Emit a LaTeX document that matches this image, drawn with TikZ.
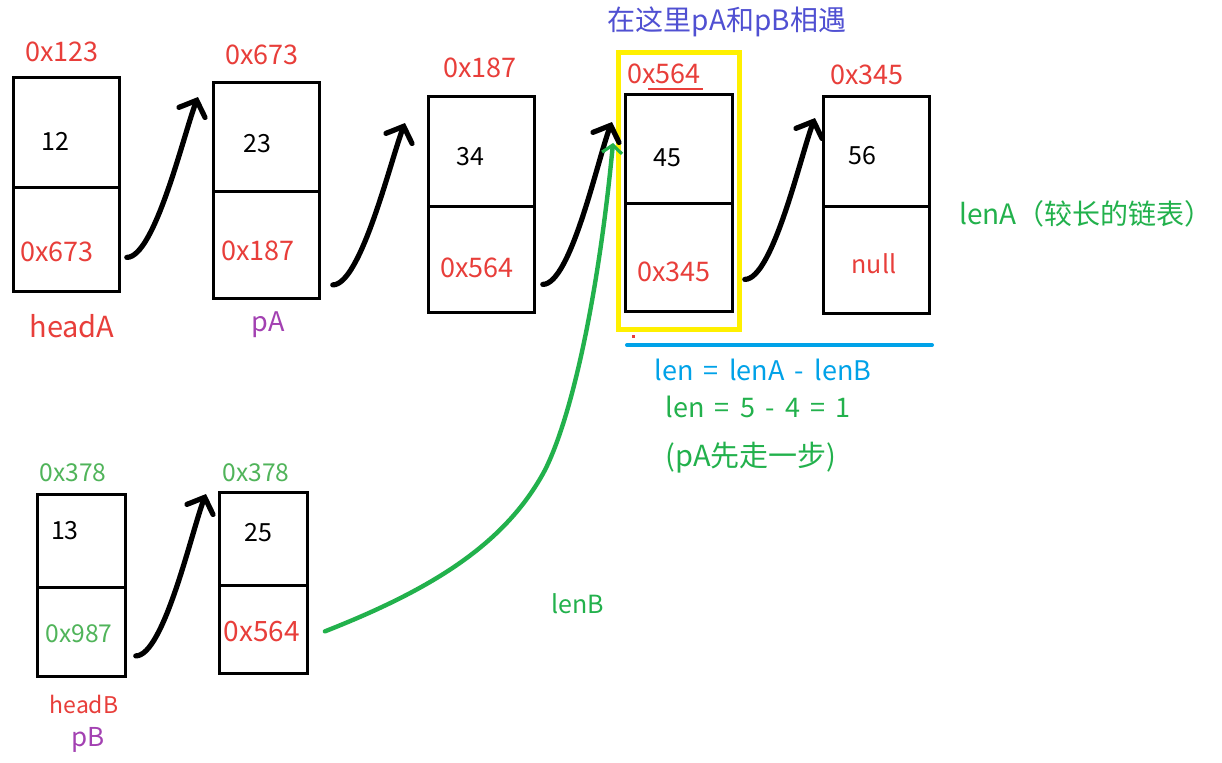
\documentclass[tikz,border=0pt]{standalone}
\usepackage{fontspec}
\setmainfont{Noto Sans CJK SC}
\usetikzlibrary{arrows.meta,calc}
\definecolor{cred}{RGB}{232,62,58}
\definecolor{cgreen}{RGB}{34,177,76}
\definecolor{lgreen}{RGB}{80,180,90}
\definecolor{cpurple}{RGB}{163,65,178}
\definecolor{ctitle}{RGB}{80,80,210}
\definecolor{cblue}{RGB}{0,162,232}
\definecolor{cyell}{RGB}{255,240,0}
\newcommand{\widesp}{\spaceskip=0.38em\relax}
\tikzset{
  cell/.style={draw=black, line width=1.4pt, inner sep=0pt, anchor=north west},
  lbl/.style={inner sep=0pt, anchor=center},
  fA/.style={font=\fontsize{13.5}{15}\selectfont},
  fV/.style={font=\fontsize{12.5}{14}\selectfont},
  fB/.style={font=\fontsize{12.3}{14}\selectfont},
  fF/.style={font=\fontsize{13.5}{15}\selectfont\widesp},
  link/.style={line width=2.6pt, line cap=round, -{Straight Barb[length=6.5pt,width=14pt,line width=2.6pt,line cap=round]}},
  glink/.style={cgreen, line width=2.2pt, line cap=round, -{Straight Barb[length=4pt,width=10pt,line width=1.6pt]}},
}
% \cellpair{name}{x}{y}{w}{h1}{h2}  (pixel units)
\newcommand{\cellpair}[6]{%
  \node[cell, minimum width=#4*0.5pt, minimum height=#5*0.5pt] (#1t) at (#2,#3) {};
  \node[cell, minimum width=#4*0.5pt, minimum height=#6*0.5pt] (#1b) at (#2,#3+#5) {};
}
\begin{document}
\begin{tikzpicture}[x=0.5pt,y=-0.5pt]
\useasboundingbox[fill=white] (0,0) rectangle (1222,762);

% list A cells
\cellpair{a1}{12}{76}{106}{110}{104}
\cellpair{a2}{212}{81}{106}{109}{107}
\cellpair{a3}{427}{95}{106}{110}{106}
\cellpair{a4}{624}{93}{107}{109}{108}
\cellpair{a5}{822}{95}{106}{110}{107}
% list B cells
\cellpair{b1}{36}{493}{88}{93}{89}
\cellpair{b2}{218}{491}{88}{93}{88}

% yellow frame
\node[draw=cyell, line width=2.6pt, minimum width=121*0.5pt, minimum height=277*0.5pt, inner sep=0pt, anchor=north west] (meet) at (616,50) {};

% address labels A
\node[lbl,fA,cred] (ad1) at (62,52) {0x123};
\node[lbl,fA,cred] (ad2) at (262,55) {0x673};
\node[lbl,fA,cred] (ad3) at (480,68) {0x187};
\node[lbl,fA,cred] (ad4) at (664,74) {0x564};
\node[lbl,fA,cred] (ad5) at (867,75) {0x345};
\draw[cred, line width=0.6pt] (648,89) -- (703,89);

% values A
\node[lbl,fV] (v1) at (55,141) {12};
\node[lbl,fV] (v2) at (257,144) {23};
\node[lbl,fV] (v3) at (470,157) {34};
\node[lbl,fV] (v4) at (667,158) {45};
\node[lbl,fV] (v5) at (862,156) {56};
\node[lbl,fA,cred] (n1) at (57,252) {0x673};
\node[lbl,fA,cred] (n2) at (258,251) {0x187};
\node[lbl,fA,cred] (n3) at (477,268) {0x564};
\node[lbl,fA,cred] (n4) at (674,272) {0x345};
\node[lbl,fV,cred] (n5) at (874,264) {null};

\node[lbl,cred,font=\fontsize{14.5}{16}\selectfont] (headA) at (72,326) {headA};
\node[lbl,cpurple,font=\fontsize{13.5}{15}\selectfont] (pA) at (268,325) {pA};

% title
\node[lbl,ctitle,font=\fontsize{14}{16}\selectfont] (title) at (727,22) {在这里pA和pB相遇};
\node[lbl,cgreen,font=\fontsize{14}{16}\selectfont] (lenA) at (1086,214) {lenA（较长的链表）};

% blue bar and formulas
\coordinate (bl) at (627,345);
\coordinate (br) at (932,345);
\draw[cblue, line width=2pt, line cap=round] (bl) -- (br);
\fill[cred] (632,335) rectangle (635,338);
\node[lbl,cblue,fF] (f1) at (763,370) {len = lenA - lenB};
\node[lbl,cgreen,fF] (f2) at (758,407) {len = 5 - 4 = 1};
\node[lbl,cgreen,font=\fontsize{14.5}{16}\selectfont] (f3) at (751,458) {(pA先走一步)};

% list B labels
\node[lbl,fB,lgreen] (bd1) at (73,473) {0x378};
\node[lbl,fB,lgreen] (bd2) at (256,473) {0x378};
\node[lbl,fV] (bv1) at (65,531) {13};
\node[lbl,fV] (bv2) at (258,533) {25};
\node[lbl,fB,lgreen] (bn1) at (79,634) {0x987};
\node[lbl,cred,font=\fontsize{14}{16}\selectfont] (bn2) at (262,632) {0x564};
\node[lbl,cred,font=\fontsize{11.5}{13}\selectfont] (headB) at (84,704) {headB};
\node[lbl,cpurple,font=\fontsize{13}{15}\selectfont] (pB) at (88,740) {pB};
\node[lbl,cgreen,font=\fontsize{12.5}{14}\selectfont] (lenB) at (578,604) {lenB};

% arrow ends
\coordinate (s1) at ($(a1b.east)+(6,18)$);
\coordinate (t1) at ($(a2t.north west)+(-14,16)$);
\coordinate (s2) at ($(a2b.east)+(12,40)$);
\coordinate (t2) at ($(a3t.north west)+(-22,28)$);
\coordinate (s3) at ($(a3b.east)+(7,25)$);
\coordinate (t3) at ($(a4t.north west)+(-12,29)$);
\coordinate (s4) at ($(a4b.east)+(11,22)$);
\coordinate (t4) at ($(a5t.north west)+(-7,23)$);
\coordinate (s5) at ($(b1b.east)+(9,24)$);
\coordinate (t5) at ($(b2t.north west)+(-12,3)$);
\coordinate (s6) at ($(b2b.east)+(16,2)$);
\coordinate (gm) at (545,470);
\coordinate (t6) at ($(a4t.north west)+(-11,50)$);

\draw[link] (s1) .. controls +(28,0) and +(-14,36) .. (t1);
\draw[link] (s2) .. controls +(28,0) and +(-14,36) .. (t2);
\draw[link] (s3) .. controls +(28,0) and +(-14,36) .. (t3);
\draw[link] (s4) .. controls +(28,0) and +(-14,36) .. (t4);
\draw[link] (s5) .. controls +(28,0) and +(-14,36) .. (t5);
\draw[glink] (s6) .. controls (430,590) and (505,545) .. (gm) .. controls (575,410) and (600,280) .. (t6);
\end{tikzpicture}
\end{document}
